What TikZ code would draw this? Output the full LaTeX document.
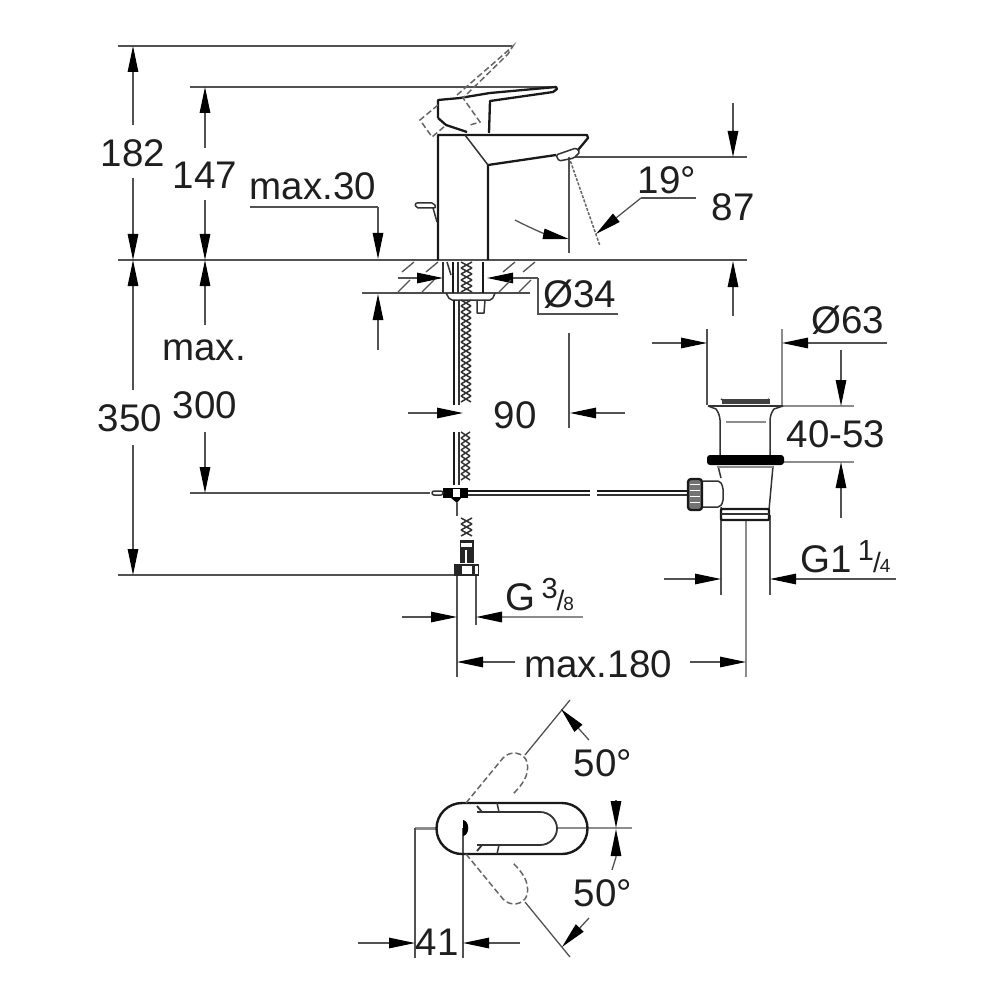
\documentclass[tikz,border=0pt]{standalone}
\usepackage{fontspec}
\setmainfont{Liberation Sans}
\usetikzlibrary{arrows.meta}
\newcommand{\smallfr}[2]{\raisebox{12pt}{\fontsize{29}{29}\selectfont #1}\kern-1pt{\fontsize{28}{28}\selectfont /}\kern-1pt{\fontsize{19}{19}\selectfont #2}}
\tikzset{
 dimline/.style={draw=black!68,line width=1.3pt},
 lightline/.style={draw=black!45,line width=1.6pt},
 darr/.style={dimline,-{Triangle[length=26pt,width=10.5pt,color=black]}},
 obj/.style={draw=black!90,line width=2.3pt,line join=round},
 thin obj/.style={draw=black!80,line width=1.5pt,line join=round},
 ghost/.style={draw=black!60,line width=1.5pt,dash pattern=on 6pt off 3pt},
 lab/.style={font=\fontsize{38.5}{38.5}\selectfont,text=black!88,inner sep=0pt}
}
\begin{document}
\begin{tikzpicture}[x=1pt,y=-1pt]
\useasboundingbox (0,0) rectangle (1000,1000);
\fill[white] (0,0) rectangle (1000,1000);
% extension lines
\draw[dimline] (118,46)--(512,46);
\draw[dimline] (190,87)--(555,87);
\draw[dimline] (118,260)--(747,260);
\draw[dimline] (118,575)--(455,575);
\draw[dimline] (190,493)--(430,493);
\draw[dimline] (575,157)--(747,157);
\draw[dimline] (362,293)--(450,293);
% 182 / 350
\draw[darr] (133,125)--(133,46);
\draw[darr] (133,178)--(133,260);
\draw[darr] (133,390)--(133,260);
\draw[darr] (133,445)--(133,575);
% 147 / 300
\draw[darr] (205,148)--(205,87);
\draw[darr] (205,200)--(205,260);
\draw[darr] (205,325)--(205,260);
\draw[darr] (205,432)--(205,493);
% max.30
\draw[dimline] (250,207)--(378,207);
\draw[darr] (378,207)--(378,259);
\draw[darr] (378,350)--(378,294);
% 87
\draw[darr] (733,103)--(733,157);
\draw[darr] (733,316)--(733,261);
% 19
\draw[dimline] (569,157)--(569,253);
\draw[ghost,dash pattern=on 3pt off 1.5pt] (569,157)--(600,246);
\draw[dimline] (696,198)--(641,198);
\draw[darr] (641,198)--(596,234);
\draw[darr] (515,220) to[bend right=8] (569,239);
% O34
\draw[darr] (398,278)--(443,278);
\draw[darr] (538,278)--(487,278);
\draw[dimline] (538,278)--(538,314)--(618,314);
% 90
\draw[dimline] (569,333)--(569,428);
\draw[darr] (408,413)--(463,413);
\draw[darr] (625,413)--(570,413);
% O63
\draw[dimline] (707,329)--(707,405);
\draw[lightline] (782,329)--(782,405);
\draw[darr] (652,343)--(707,343);
\draw[darr] (887,343)--(782,343);
% 40-53
\draw[lightline] (783,406)--(854,406);
\draw[lightline] (783,462)--(854,462);
\draw[darr] (841,350)--(841,406);
\draw[darr] (841,518)--(841,462);
% G1 1/4
\draw[dimline] (721,515)--(721,595);
\draw[dimline] (770,515)--(770,595);
\draw[darr] (664,579)--(721,579);
\draw[darr] (896,579)--(770,579);
% G3/8
\draw[dimline] (457,575)--(457,677);
\draw[dimline] (476,575)--(476,625);
\draw[darr] (402,617)--(457,617);
\draw[lightline,-{Triangle[length=26pt,width=10.5pt,color=black]}] (583,617)--(476,617);
% max.180
\draw[lightline] (746,520)--(746,677);
\draw[darr] (515,662)--(457,662);
\draw[darr] (690,662)--(746,662);
% faucet body
\draw[obj] (438,260)--(438,135)--(587,135)--(588,138)--(578,150);
\draw[obj] (488,260)--(488,165)--(556,155);
\draw[thin obj] (465,135)--(488,165);
\draw[thin obj,rounded corners=1.5pt] (556,155)--(576,148)--(580,152)--(574,158)--(559,161)--cycle;
% lever
\draw[obj] (438,118)--(438,100)--(460,98)--(490,93)--(556,87)--(557,89)--(553,92)--(490,101)--(489,133);
\draw[obj] (438,118)--(446,125)--(467,132);
% lever ghost
\draw[ghost] (438,105)--(420,120)--(432,137)--(445,126);
\draw[ghost] (457,95)--(503,55)--(513,46)--(508,54)--(463,98)--(480,122)--(470,125);
% lift rod
\draw[thin obj,fill=white,rounded corners=2pt] (415,203)--(434,203)--(436,208)--(416,208)--cycle;
\draw[thin obj] (433,208)--(437,222);
% deck
\draw[obj,draw=black!70] (400,293)--(530,293);
\foreach \x in {402,426,503,523}{\draw[dimline] (\x,272)--(\x+12,262); \draw[dimline] (\x-4,292)--(\x+8,280);}
% mounting
\draw[thin obj] (443,262)--(443,293);
\draw[obj] (483,262)--(483,293);
\draw[obj] (453,262)--(453,293);
\draw[thin obj] (458,262)--(458,293);
\draw[thin obj] (447,262)--(451,275);
\draw[thin obj,rounded corners=2pt] (446,293)--(450,300)--(492,300)--(495,293);
\draw[thin obj] (477,300)--(477,313)--(484,313)--(485,300);
% hoses
\draw[obj] (454,300)--(454,405);
\draw[thin obj] (459,300)--(459,405);
\draw[obj] (454,432)--(454,485);
\draw[thin obj] (459,432)--(459,485);
\foreach \y in {262,268,...,286}{\draw[thin obj] (461,\y)--(472,\y+6) (472,\y)--(461,\y+6);}
\foreach \y in {300,306,...,396}{\draw[thin obj] (461,\y)--(471,\y+6) (471,\y)--(461,\y+6);}
\foreach \y in {432,438,...,474}{\draw[thin obj] (461,\y)--(470,\y+6) (470,\y)--(461,\y+6);}
\foreach \y in {518,524,530}{\draw[thin obj] (461,\y)--(472,\y+6) (472,\y)--(461,\y+6);}
% T fitting
\fill[black] (443,488) rectangle (468,498);
\fill[black] (451,498)--(461,498)--(457,503)--cycle;
\fill[white] (453,489) rectangle (460,497);
\draw[thin obj,fill=white,rounded corners=2pt] (432,491) rectangle (443,495);
\draw[dimline] (457,503)--(457,516);
% lower fitting
\fill[black!85] (460,540) rectangle (474,563);
\fill[white] (461,543) rectangle (472,547);
\fill[white] (465,550) rectangle (467,563);
\fill[black!85] (454,564) rectangle (479,576);
\fill[white] (462,566) rectangle (472,574);
\fill[white] (475,566) rectangle (478,574);
% rod
\draw[obj] (468,491)--(590,491);
\draw[thin obj] (468,495)--(590,495);
\draw[obj] (597,491)--(688,491);
\draw[thin obj] (597,495)--(688,495);
% drain
\draw[thin obj] (721,399) arc[start angle=180,end angle=0,x radius=24,y radius=3];
\fill[black!75] (722,399) rectangle (770,404);
\draw[thin obj] (708,406)--(716,409) to[bend left=15] (720,420)--(720,455);
\draw[thin obj] (783,406)--(774,409) to[bend right=15] (770,420)--(770,455);
\draw[thin obj] (708,406)--(783,406);
\draw[lightline] (726,422)--(766,422);
\fill[black,rounded corners=3pt] (707,455) rectangle (784,465);
\draw[thin obj] (718,466)--(721,478) (721,507)--(721,510);
\draw[thin obj] (773,466)--(769,510);
\draw[lightline] (718,467)--(773,467);
\draw[obj,rounded corners=1pt] (721,509) rectangle (769,520);
\draw[thin obj] (721,514)--(769,514);
\draw[thin obj,rounded corners=2pt] (703,481)--(720,481)--(723,487)--(723,502)--(720,507)--(703,507);
\draw[obj,fill=black!55,rounded corners=3pt] (688,479) rectangle (702,510);
\foreach \y in {484,490,...,506}{\draw[white,line width=1pt] (690,\y)--(700,\y);}
% top view
\draw[lightline,line width=3pt] (415,828)--(436,828);
\draw[lightline] (557,828)--(632,828);
\draw[dimline] (415,828)--(415,958);
\draw[dimline] (463,828)--(463,958);
\draw[obj,line width=2.4pt] (462,803)--(562,803) arc[start angle=-90,end angle=90,radius=25.5] -- (462,854) arc[start angle=90,end angle=270,radius=25.5] -- cycle;
\draw[thin obj,line width=1.8pt] (477,806)--(482,812)--(540,812) arc[start angle=-90,end angle=90,x radius=17,y radius=16.5]--(482,845)--(477,851);
\draw[thin obj] (477,812)--(482,812) (477,845)--(482,845);
\draw[thin obj] (497,803)--(499,812) (497,854)--(499,845);
\fill[black] (463,820) .. controls (470,821) and (470,835) .. (463,836) -- cycle;
% ghost handles
\draw[ghost] (466,803)--(503,758) .. controls (510,750) and (524,752) .. (527,762) .. controls (530,775) and (522,785) .. (513,794);
\draw[ghost] (466,854)--(503,899) .. controls (510,907) and (524,905) .. (527,895) .. controls (530,882) and (522,872) .. (513,863);
\draw[dimline] (525,755)--(570,700);
\draw[dimline] (525,902)--(570,957);
\draw[darr] (589,740)--(561,709);
\draw[darr] (589,918)--(562,947);
\draw[darr,-{Triangle[length=27pt,width=10.5pt,color=black]}] (616,800)--(616,828);
\draw[darr,-{Triangle[length=27pt,width=10.5pt,color=black]}] (612,870)--(616,857)--(616,829);
\draw[darr] (358,943)--(415,943);
\draw[darr] (520,943)--(463,943);
% labels
\node[lab] (n182) at (133,153) {182};
\node[lab] (n147) at (205,175) {147};
\node[lab] (nmax30) at (313,186) {max.30};
\node[lab] (n19) at (667,180) {19°};
\node[lab] (n87) at (733,207) {87};
\node[lab] (n34) at (580,294) {Ø34};
\node[lab] (nmax) at (204,350) {max.};
\node[lab] (n300) at (205,405) {300};
\node[lab] (n350) at (130,418) {350};
\node[lab] (n90) at (515,415) {90};
\node[lab] (n63) at (848,320) {Ø63};
\node[lab] (n4053) at (836,434) {40-53};
\node[lab,anchor=base west] (ng114) at (800,572) {G1\,\smallfr{1}{4}};
\node[lab,anchor=base west] (ng38) at (505,610) {G\,\smallfr{3}{8}};
\node[lab] (n180) at (598,664) {max.180};
\node[lab] (n50a) at (603,763) {50°};
\node[lab] (n50b) at (603,893) {50°};
\node[lab] (n41) at (437,942) {41};
\end{tikzpicture}
\end{document}
